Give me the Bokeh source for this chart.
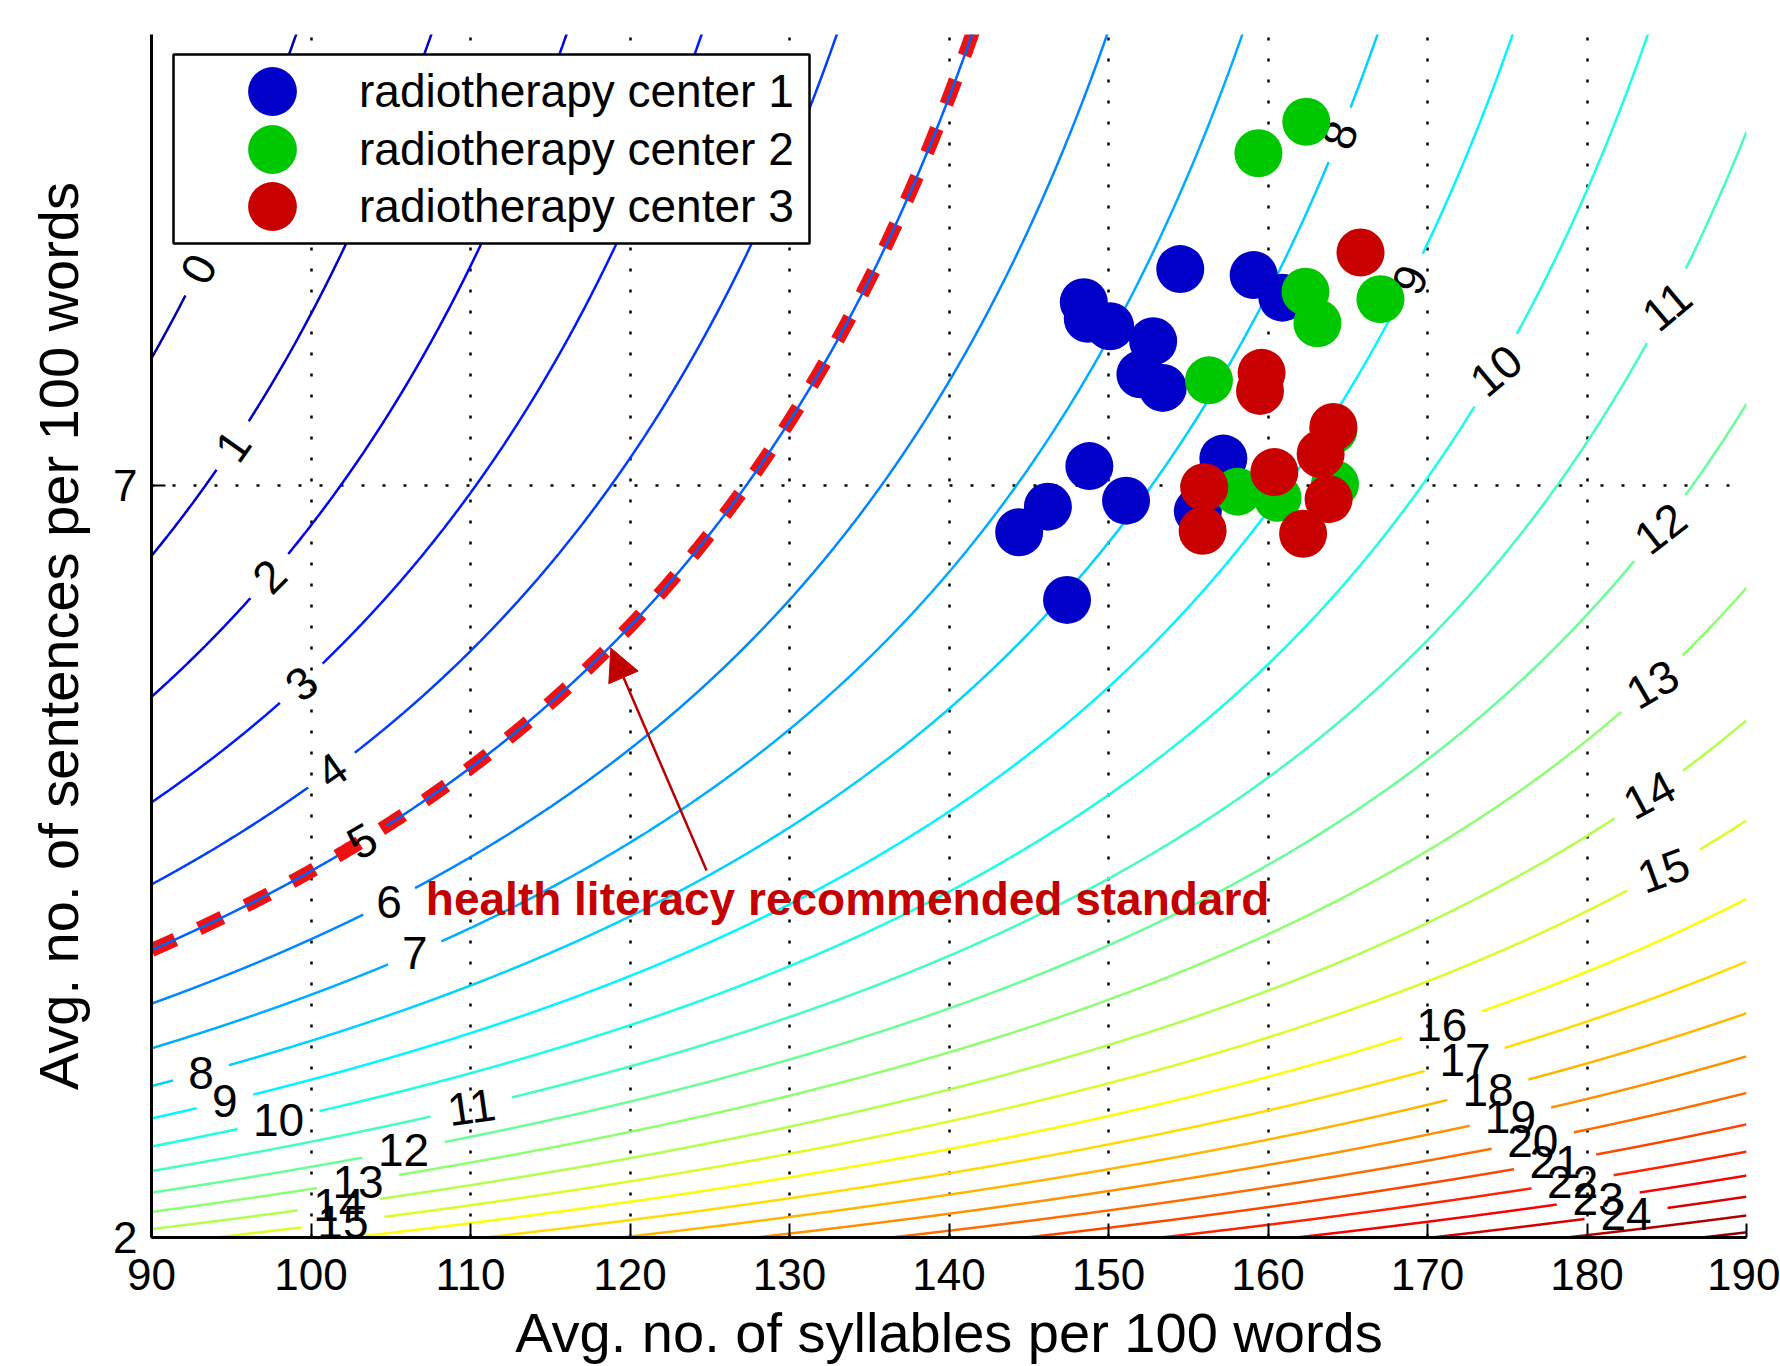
import numpy as np
from bokeh.plotting import figure
from bokeh.models import (Range1d, FixedTicker, Legend, LegendItem, Arrow, NormalHead,
                          Label, BoxAnnotation, ColumnDataSource)
from bokeh.core.properties import value
from bokeh.embed import file_html
from bokeh.resources import INLINE

# ---------------- data ----------------
x_ticks = [90, 100, 110, 120, 130, 140, 150, 160, 170, 180, 190]
y_ticks = [2, 7]
x_title = "Avg. no. of syllables per 100 words"
y_title = "Avg. no. of sentences per 100 words"

# Flesch-Kincaid grade level coefficients (contour field)
fk_sentence_coef = 0.39
fk_syllable_coef = 11.8
fk_constant = -15.59
grade_levels = list(range(0, 27))
standard_grade = 5

series_names = ["radiotherapy center 1", "radiotherapy center 2", "radiotherapy center 3"]

center1_syllables = [154.5, 159.1, 160.9, 148.45, 148.7, 150.1, 152.8, 152.0, 153.4,
                     148.8, 146.2, 144.4, 151.1, 157.2, 155.6, 147.4]
center1_sentences = [8.44, 8.40, 8.25, 8.22, 8.11, 8.06, 7.96, 7.74, 7.65,
                     7.13, 6.86, 6.69, 6.90, 7.18, 6.83, 6.24]

center2_syllables = [162.4, 159.4, 162.35, 163.1, 167.05, 156.3, 158.1, 160.6, 164.2, 164.1]
center2_sentences = [9.42, 9.21, 8.29, 8.08, 8.24, 7.70, 6.96, 6.92, 7.01, 7.37]

center3_syllables = [165.8, 159.6, 159.5, 164.1, 163.3, 160.4, 156.0, 155.9, 162.2, 163.8]
center3_sentences = [8.55, 7.75, 7.63, 7.39, 7.21, 7.09, 6.99, 6.70, 6.68, 6.91]

annotation_text = "health literacy recommended standard"

# ---------------- layout / style ----------------
W, H = 1780, 1366
B_LEFT, B_RIGHT, B_TOP, B_BOTTOM = 151, 34, 34, 129
FRAME_W = W - B_LEFT - B_RIGHT
FRAME_H = H - B_TOP - B_BOTTOM
X0, X1 = x_ticks[0], x_ticks[-1]
Y0, Y1 = 2, 10
KX = FRAME_W / (X1 - X0)
KY = FRAME_H / (Y1 - Y0)
FONT = "Liberation Sans"
COLORS = ["#0000c8", "#00c800", "#c80000"]

# contour label placement: (level, syllable position along the curve, rotation deg)
label_levels = [0, 1, 2, 3, 4, 5, 6, 7,
                8, 9, 10, 11, 12, 13, 14, 15,
                8, 9, 10, 11, 12, 13, 14, 15,
                16, 17, 18, 19, 20, 21, 22, 23, 24]
label_positions = [92.96, 95.1, 97.4, 99.4, 101.3, 103.2, 104.9, 106.5,
                   93.1, 94.6, 97.96, 110.06, 105.8, 102.95, 101.74, 102.0,
                   164.5, 168.9, 174.3, 185.0, 184.6, 184.1, 183.9, 184.8,
                   170.9, 172.35, 173.8, 175.2, 176.6, 178.0, 179.1, 180.7, 182.45]
label_angles = [62, 55, 45, 40, 35, 30, 0, 0,
                0, 0, 0, 8, 0, 0, 0, 0,
                70, 65, 40, 40, 38, 30, 28, 20,
                0, 0, 0, 0, 0, 0, 0, 0, 0]
LABEL_SIZE = 46


def sentences_for_grade(level, syl):
    syl = np.asarray(syl, dtype=float)
    den = level - fk_constant - fk_syllable_coef * syl / 100.0
    with np.errstate(divide="ignore", invalid="ignore"):
        s = 100.0 * fk_sentence_coef / den
    s = np.where(den > 0, s, np.nan)
    return s


def grade_at(syl, sent):
    return fk_sentence_coef * 100.0 / sent + fk_syllable_coef * syl / 100.0 + fk_constant


def jet(t):
    t = min(max(t, 0.0), 1.0)
    r = min(max(1.5 - abs(4 * t - 3), 0), 1)
    g = min(max(1.5 - abs(4 * t - 2), 0), 1)
    b = min(max(1.5 - abs(4 * t - 1), 0), 1)
    return "#%02x%02x%02x" % (int(r * 255), int(g * 255), int(b * 255))


zmin = grade_at(X0, Y1)
zmax = grade_at(X1, Y0)

p = figure(width=W, height=H, x_range=Range1d(X0, X1), y_range=Range1d(Y0, Y1),
           output_backend="svg", toolbar_location=None,
           min_border_left=B_LEFT, min_border_right=B_RIGHT,
           min_border_top=B_TOP, min_border_bottom=B_BOTTOM)
p.outline_line_color = None
p.background_fill_color = "white"
p.border_fill_color = "white"

# axes
for ax in (p.xaxis[0], p.yaxis[0]):
    ax.axis_line_width = 3
    ax.axis_line_color = "black"
    ax.major_tick_in = 14
    ax.major_tick_out = 0
    ax.major_tick_line_width = 2
    ax.major_tick_line_color = "black"
    ax.minor_tick_line_color = None
    ax.major_label_text_font = FONT
    ax.major_label_text_font_size = "44px"
    ax.major_label_text_color = "black"
    ax.axis_label_text_font = FONT
    ax.axis_label_text_font_size = "56px"
    ax.axis_label_text_font_style = "normal"
    ax.axis_label_text_color = "black"
p.xaxis.ticker = FixedTicker(ticks=x_ticks)
p.yaxis.ticker = FixedTicker(ticks=y_ticks)
p.xaxis.axis_label = x_title
p.yaxis.axis_label = y_title
p.xaxis.major_label_standoff = 21
p.xaxis.axis_label_standoff = 8
p.yaxis.major_label_standoff = 14
p.yaxis.axis_label_standoff = 20

p.xgrid.ticker = FixedTicker(ticks=x_ticks[1:])
p.ygrid.ticker = FixedTicker(ticks=y_ticks[1:])
for g in (p.xgrid[0], p.ygrid[0]):
    g.grid_line_color = "black"
    g.grid_line_width = 2.5
    g.grid_line_dash = "3 18"
    g.grid_line_alpha = 1.0

# recommended standard (red dashed under the grade-5 contour)
xs_dense = np.linspace(X0, X1, 4001)
std_y = sentences_for_grade(standard_grade, xs_dense)
std_y = np.where((std_y >= Y0 - 0.2) & (std_y <= Y1 + 0.2), std_y, np.nan)
p.line(xs_dense, std_y, line_color="#ee1111", line_width=14, line_dash="26 26")

# contour lines with gaps at labels
lab_y = [float(sentences_for_grade(l, x)) for l, x in zip(label_levels, label_positions)]
seg_xs, seg_ys, seg_cols = [], [], []
for lev in grade_levels:
    yy = sentences_for_grade(lev, xs_dense)
    yy = np.where((yy >= Y0 - 0.2) & (yy <= Y1 + 0.2), yy, np.nan)
    for l, lx, ly in zip(label_levels, label_positions, lab_y):
        if l != lev:
            continue
        r = 0.5 * len(str(l)) * 0.556 * LABEL_SIZE + 16
        d = np.hypot((xs_dense - lx) * KX, (yy - ly) * KY)
        yy = np.where(d < r, np.nan, yy)
    ok = ~np.isnan(yy)
    edges = np.flatnonzero(np.diff(np.concatenate([[0], ok.astype(int), [0]])))
    col = jet((lev - zmin) / (zmax - zmin))
    for a, b in zip(edges[::2], edges[1::2]):
        if b - a > 1:
            seg_xs.append(xs_dense[a:b].tolist())
            seg_ys.append(yy[a:b].tolist())
            seg_cols.append(col)
p.multi_line(xs=seg_xs, ys=seg_ys, line_color=seg_cols, line_width=2.5)

lab_src = ColumnDataSource(dict(x=label_positions, y=lab_y,
                                text=[str(l) for l in label_levels],
                                angle=[np.deg2rad(a) for a in label_angles]))
p.text(x="x", y="y", text="text", angle="angle", source=lab_src,
       text_align="center", text_baseline="middle", text_color="black",
       text_font=value(FONT), text_font_size=value("%dpx" % LABEL_SIZE))

# data points
r1 = p.scatter(center1_syllables, center1_sentences, marker="circle", size=48,
               fill_color=COLORS[0], line_color=COLORS[0], line_width=0)
r2 = p.scatter(center2_syllables, center2_sentences, marker="circle", size=48,
               fill_color=COLORS[1], line_color=COLORS[1], line_width=0)
r3 = p.scatter(center3_syllables, center3_sentences, marker="circle", size=48,
               fill_color=COLORS[2], line_color=COLORS[2], line_width=0)

# annotation text + arrow
p.add_layout(Label(x=107.2, y=4.25, text=annotation_text, text_font=FONT,
                   text_font_size="46px", text_font_style="bold", text_color="#c40000",
                   text_baseline="middle", text_align="left"))
p.add_layout(Arrow(x_start=124.8, y_start=4.44, x_end=118.8, y_end=5.92,
                   line_color="#b80000", line_width=2.5,
                   end=NormalHead(size=32, fill_color="#c00000", line_color="#c00000")))

# legend box (white, black border) placed via pixel offsets in the frame
lb_left, lb_right, lb_top, lb_bottom = 22, 658, 20, 209
p.add_layout(BoxAnnotation(left=X0 + lb_left / KX, right=X0 + lb_right / KX,
                           top=Y1 - lb_top / KY, bottom=Y1 - lb_bottom / KY,
                           fill_color="white", fill_alpha=1.0,
                           line_color="black", line_alpha=1.0, line_width=2.5))

# one legend per series row (large markers), transparent, on top of the box
GLYPH = 122
row_centers = [56.7, 115.0, 172.0]   # px below frame top
for name, rend, rc in zip(series_names, [r1, r2, r3], row_centers):
    lg = Legend(items=[LegendItem(label=name, renderers=[rend])],
                location=(60, FRAME_H - (rc + GLYPH / 2)), margin=0, padding=0,
                glyph_width=GLYPH, glyph_height=GLYPH, label_height=GLYPH,
                label_standoff=26,
                label_text_font=FONT, label_text_font_size="46px",
                label_text_color="black",
                border_line_alpha=0, background_fill_alpha=0)
    p.add_layout(lg)

open("out.html", "w").write(file_html(p, INLINE))
